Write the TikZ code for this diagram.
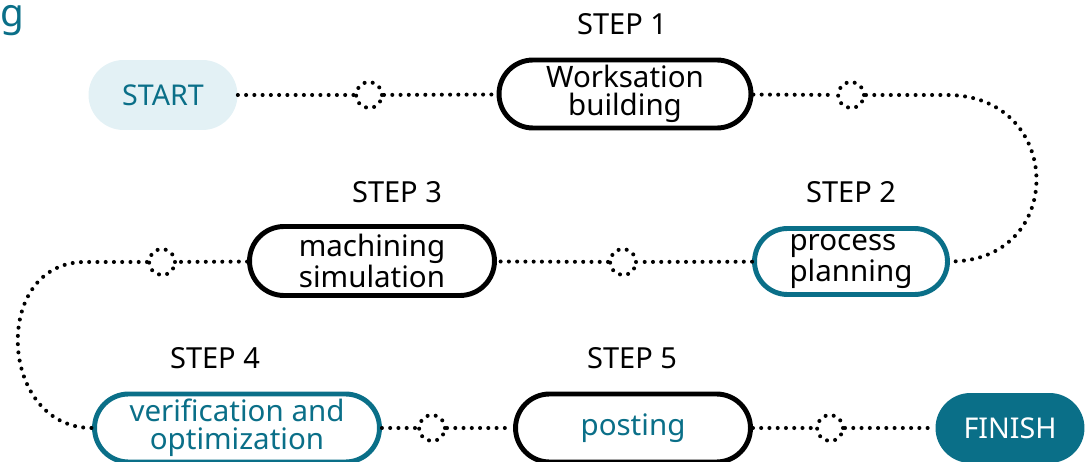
\documentclass[tikz,border=0pt]{standalone}
\usepackage{fontspec}
\setmainfont{Noto Sans}
\usetikzlibrary{shapes.misc}
\definecolor{stepteal}{HTML}{0A6F88}
\definecolor{startfill}{HTML}{E3F1F5}
\tikzset{
	pill/.style={rounded rectangle, inner sep=0pt, line width=2.8pt, align=center,
		font=\fontsize{16.8}{15.8}\selectfont},
	endpill/.style={rounded rectangle, inner sep=0pt, minimum width=2.98cm, minimum height=1.4cm,
		font=\fontsize{16.3}{18}\selectfont},
	steplabel/.style={font=\fontsize{16.5}{18}\selectfont},
	link/.style={line width=2.3pt, line cap=round, dash pattern=on 0pt off 4.7pt},
	ring/.style={circle, link, minimum size=0.52cm, inner sep=0pt},
}
\begin{document}
\begin{tikzpicture}[x=0.02cm,y=-0.02cm]
		\useasboundingbox (0,0) rectangle (1086,462);
		%
		\node[anchor=base west, inner sep=0pt, text=stepteal, font=\fontsize{22}{24}\selectfont] (ttl) at (0,27) {g};
		%
		\node[endpill, fill=startfill, text=stepteal] (start) at (163,95) {START};
		\node[endpill, fill=stepteal, text=white] (finish) at (1010,428) {FINISH};
		%
		\node[pill, draw=black, minimum width=5.04cm, minimum height=1.36cm] (s1) at (625,94) {Worksation\\building};
		\node[pill, draw=stepteal, minimum width=3.86cm, minimum height=1.32cm, align=left] (s2) at (851,261.5) {process\\planning};
		\node[pill, draw=black, minimum width=4.9cm, minimum height=1.38cm] (s3) at (372,261) {machining\\simulation};
		\node[pill, draw=stepteal, text=stepteal, minimum width=5.7cm, minimum height=1.36cm] (s4) at (237,428) {verification and\\optimization};
		\node[pill, draw=black, text=stepteal, minimum width=4.7cm, minimum height=1.36cm] (s5) at (633,428) {posting};
		%
		\node[steplabel] (l1) at (622,24) {STEP 1};
		\node[steplabel] (l2) at (851,192) {STEP 2};
		\node[steplabel] (l3) at (397,192) {STEP 3};
		\node[steplabel] (l4) at (215,358) {STEP 4};
		\node[steplabel] (l5) at (632,358) {STEP 5};
		%
		\node[ring, draw] (c1) at (369,95) {};
		\node[ring, draw] (c2) at (851,95) {};
		\node[ring, draw] (c3) at (623,262) {};
		\node[ring, draw] (c4) at (162,262) {};
		\node[ring, draw] (c5) at (432,428) {};
		\node[ring, draw] (c6) at (830,428) {};
		\coordinate (bendR) at (947,95);
		\coordinate (bendL) at (85,262);
		%
		\draw[link] (start) -- (c1) -- (s1);
		\draw[link] (s1) -- (c2) -- (bendR) to[out=0, in=0, looseness=1.8] (s2.east);
		\draw[link] (s2) -- (c3) -- (s3);
		\draw[link] (s3) -- (c4) -- (bendL) to[out=180, in=180, looseness=1.45] (s4.west);
		\draw[link] (s4) -- (c5) -- (s5);
		\draw[link] (s5) -- (c6) -- (finish);
		%
\end{tikzpicture}
\end{document}
